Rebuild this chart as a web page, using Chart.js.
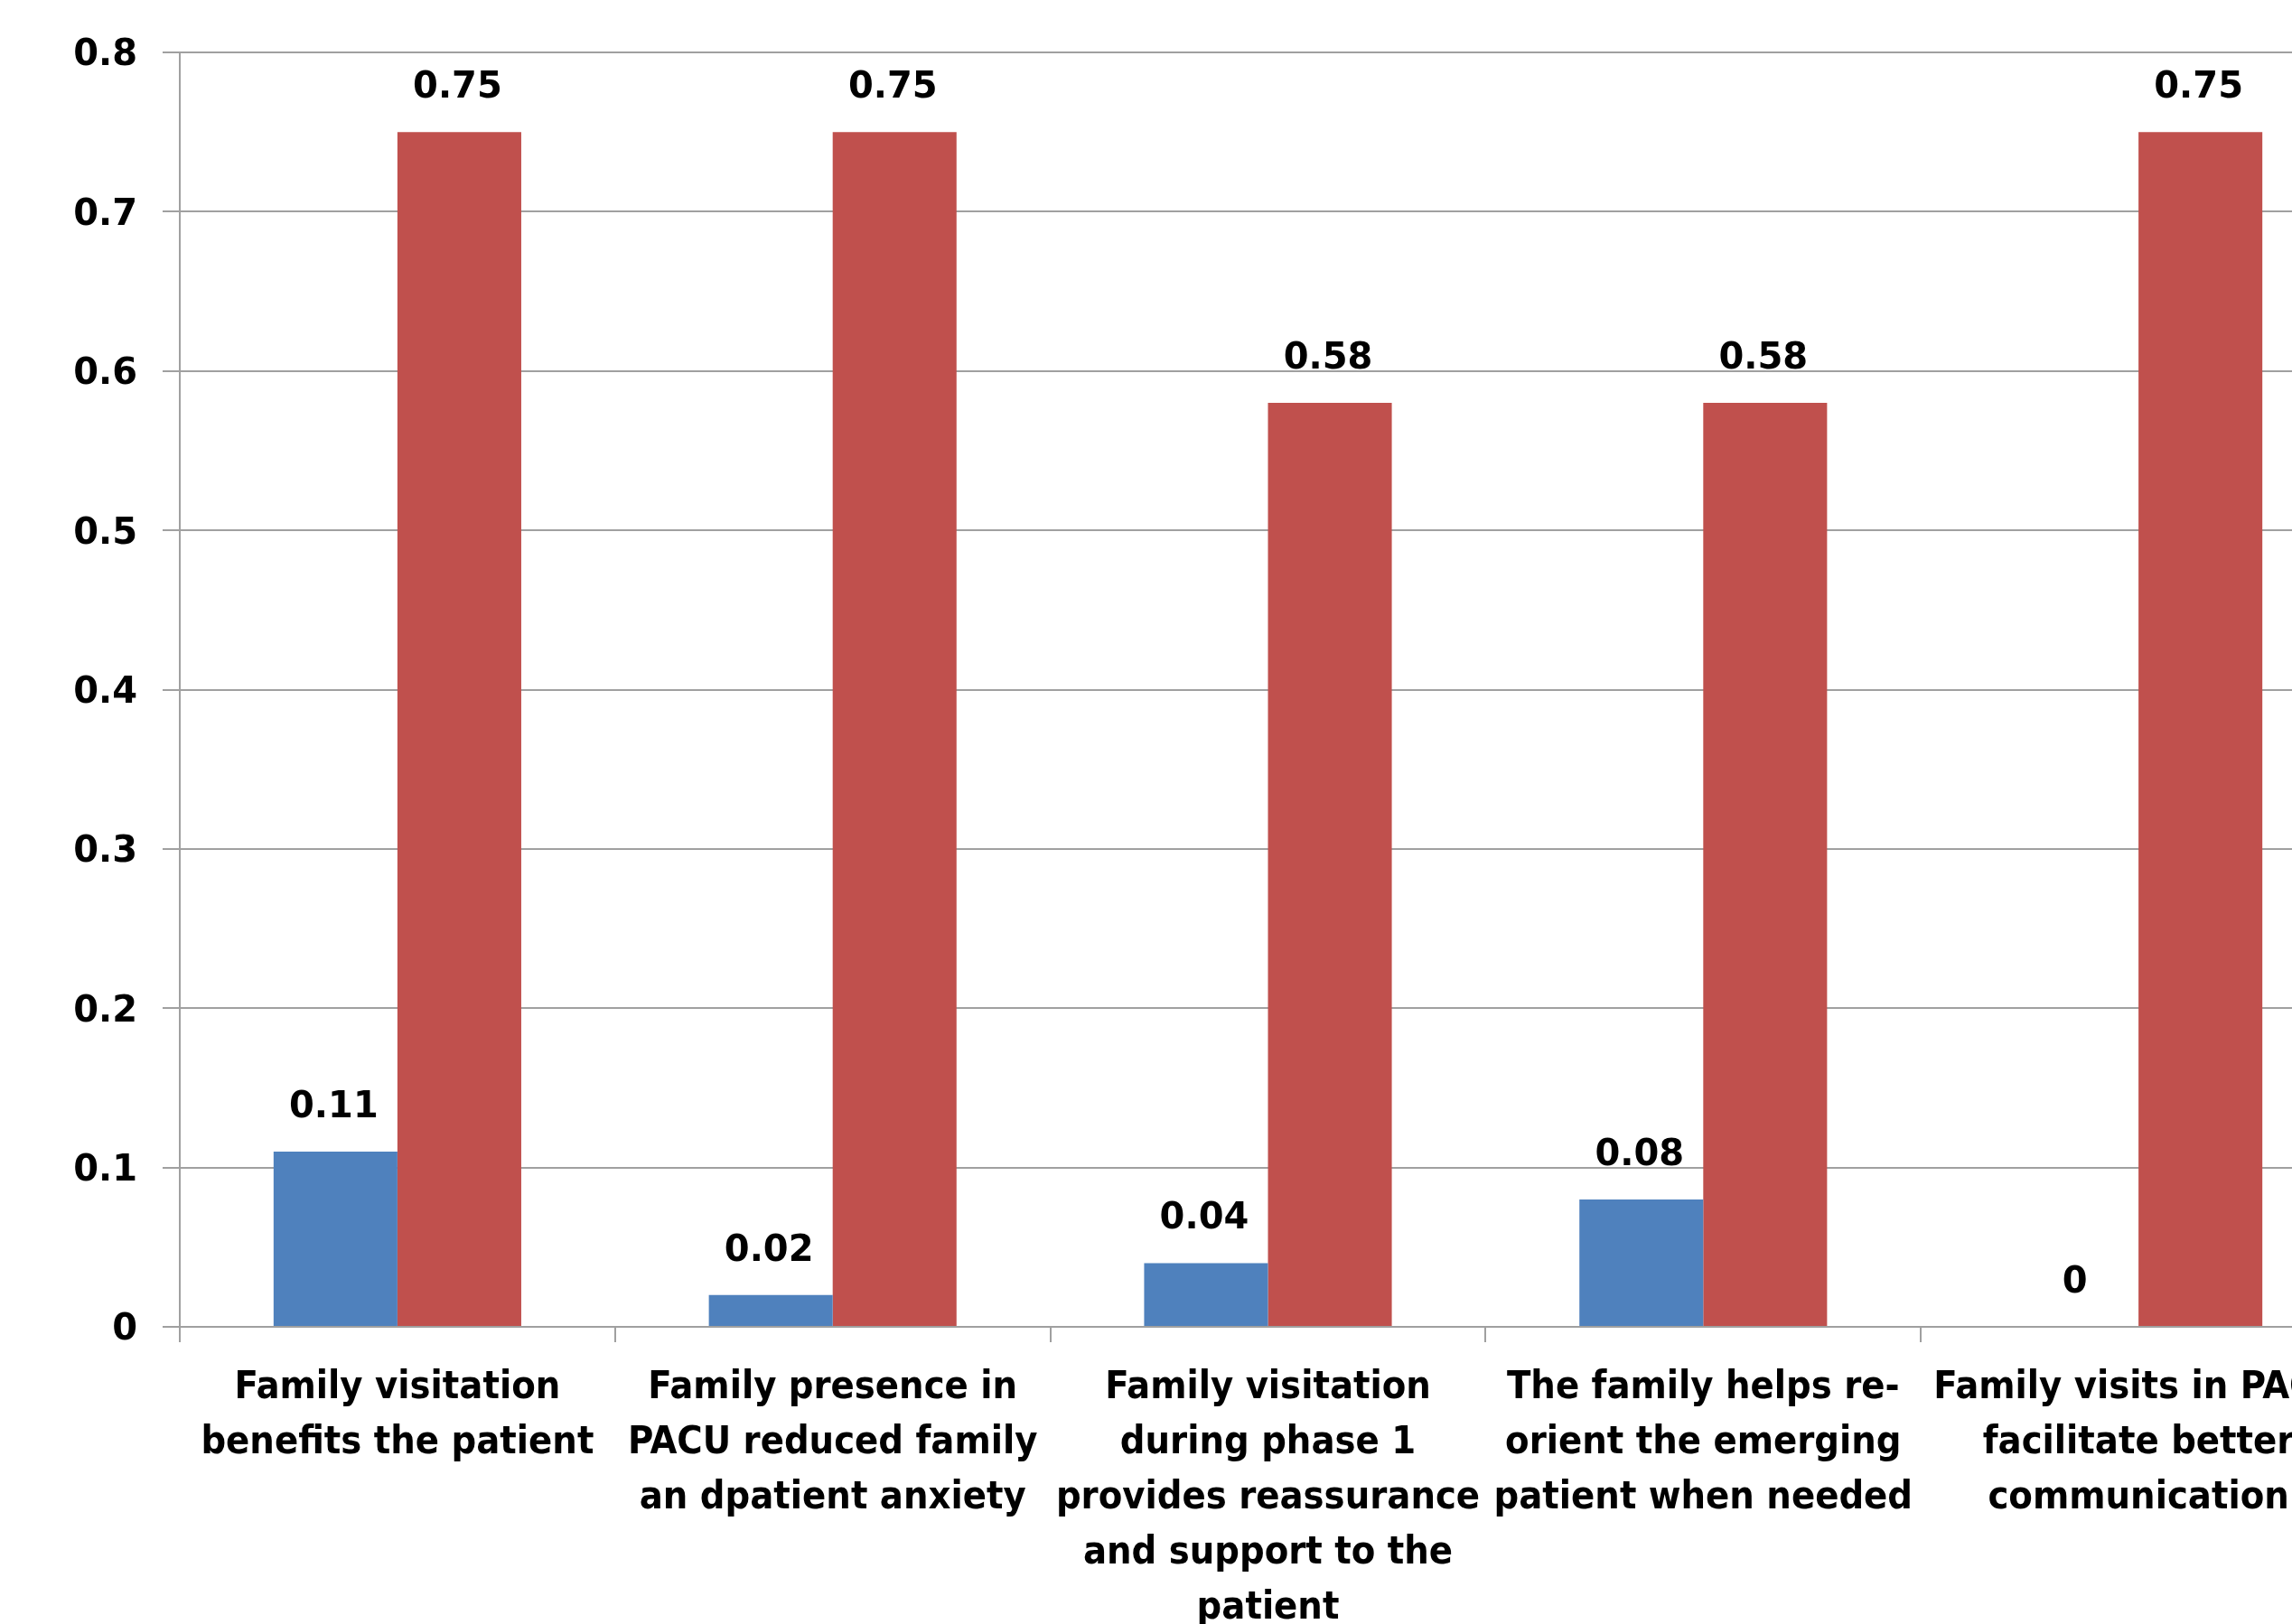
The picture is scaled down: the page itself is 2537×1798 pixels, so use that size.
<!DOCTYPE html>
<html>
<head>
<meta charset="utf-8">
<title>Family visitation in PACU</title>
<script src="https://cdn.jsdelivr.net/npm/chart.js@4.4.1/dist/chart.umd.min.js"></script>
<style>
  html, body { margin: 0; padding: 0; background: #ffffff; overflow: hidden; }
  #wrap { position: absolute; left: 0; top: 0; width: 2700px; height: 1798px; }
</style>
</head>
<body>
<div id="wrap"><canvas id="chart" width="2700" height="1798"></canvas></div>
<script>
// Statements (multi-line category labels)
const categories = [
  ['Family visitation', 'benefits the patient'],
  ['Family presence in', 'PACU reduced family', 'an dpatient anxiety'],
  ['Family visitation', 'during phase 1', 'provides reassurance', 'and support to the', 'patient'],
  ['The family helps re-', 'orient the emerging', 'patient when needed'],
  ['Family visits in PACU', 'facilitate better', 'communication']
];

// Proportions per statement
const seriesBlue = [0.11, 0.02, 0.04, 0.08, 0];
const seriesRed = [0.75, 0.75, 0.58, 0.58, 0.75];

// Value-axis labels, 0 to 0.8 in steps of 0.1
const yTickLabels = ['0', '0.1', '0.2', '0.3', '0.4', '0.5', '0.6', '0.7', '0.8'];

const GRID = '#a0a0a0';
const NUM_FONT = 'DejaVu Sans';
const CAT_FONT = "'DejaVu Sans Condensed', 'Open Sans', sans-serif";

// Writes each bar's value just above it
const valueLabels = {
  id: 'valueLabels',
  afterDatasetsDraw(chart) {
    const ctx = chart.ctx;
    ctx.save();
    ctx.font = 'bold 40px "' + NUM_FONT + '"';
    ctx.fillStyle = '#000000';
    ctx.textAlign = 'center';
    ctx.textBaseline = 'alphabetic';
    chart.data.datasets.forEach((ds, di) => {
      chart.getDatasetMeta(di).data.forEach((bar, i) => {
        ctx.fillText(String(ds.data[i]), bar.x - 2, bar.y - 38);
      });
    });
    ctx.restore();
  }
};

new Chart(document.getElementById('chart'), {
  type: 'bar',
  data: {
    labels: categories,
    datasets: [
      {
        label: 'Series 1',
        data: seriesBlue,
        backgroundColor: '#4f81bd',
        categoryPercentage: 0.569,
        barPercentage: 1.0
      },
      {
        label: 'Series 2',
        data: seriesRed,
        backgroundColor: '#c0504d',
        categoryPercentage: 0.569,
        barPercentage: 1.0
      }
    ]
  },
  options: {
    responsive: false,
    animation: false,
    devicePixelRatio: 1,
    layout: { padding: { top: 58, right: 92, left: 0, bottom: 0 } },
    plugins: {
      legend: { display: false },
      tooltip: { enabled: false },
      title: { display: false }
    },
    scales: {
      x: {
        offset: true,
        grid: {
          display: true,
          offset: true,
          drawOnChartArea: false,
          drawTicks: true,
          tickLength: 17,
          color: GRID,
          lineWidth: 2
        },
        border: { display: true, color: GRID, width: 2 },
        ticks: {
          autoSkip: false,
          maxRotation: 0,
          minRotation: 0,
          padding: 20,
          color: '#000000',
          font: { family: CAT_FONT, size: 43, weight: 'bold', lineHeight: 1.42 }
        },
        afterFit(scale) { scale.height = 329; }
      },
      y: {
        min: 0,
        max: 0.8,
        ticks: {
          stepSize: 0.1,
          padding: 28,
          labelOffset: 4,
          color: '#000000',
          font: { family: NUM_FONT, size: 40, weight: 'bold' },
          callback: (value, index) => yTickLabels[index]
        },
        grid: {
          color: GRID,
          lineWidth: 2,
          drawTicks: true,
          tickLength: 19
        },
        border: { display: true, color: GRID, width: 2 },
        afterFit(scale) { scale.width = 199; }
      }
    }
  },
  plugins: [valueLabels]
});
</script>
</body>
</html>
